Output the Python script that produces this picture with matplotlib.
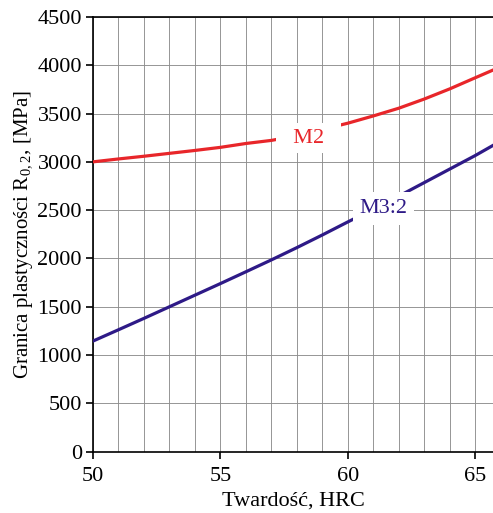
import numpy as np
import matplotlib
matplotlib.use('Agg')
import matplotlib.pyplot as plt
from matplotlib.ticker import MultipleLocator

# Dane
hrc = [50, 51, 52, 53, 54, 55, 56, 57, 58, 59, 60, 61, 62, 63, 64, 65, 65.7]
m2 = [3000, 3030, 3058, 3088, 3118, 3150, 3190, 3222, 3270, 3335, 3400, 3475,
      3555, 3650, 3755, 3870, 3950]
m32 = [1145, 1262, 1380, 1500, 1620, 1740, 1862, 1985, 2112, 2243, 2378, 2510,
       2645, 2785, 2925, 3065, 3170]

plt.rcParams['font.family'] = ['Liberation Serif', 'DejaVu Serif']
plt.rcParams['mathtext.fontset'] = 'custom'
plt.rcParams['mathtext.rm'] = 'Liberation Serif'

fig = plt.figure(figsize=(4.93, 5.13), dpi=100)
ax = fig.add_axes([0.1886, 0.1195, 0.8114, 0.8475])

ax.plot(hrc, m2, color='#e8262a', lw=2.3, zorder=3)
ax.plot(hrc, m32, color='#2e1a87', lw=2.3, zorder=3)

ax.text(58.45, 3245, '  M2  ', color='#e8262a', fontsize=16, ha='center', va='center',
        bbox=dict(facecolor='white', edgecolor='none', pad=4), zorder=4)
ax.text(61.4, 2520, 'M3:2', color='#2e1a87', fontsize=16, ha='center', va='center',
        bbox=dict(facecolor='white', edgecolor='none', pad=5), zorder=4)

ax.set_xlim(50, 65.7)
ax.set_ylim(0, 4500)
ax.xaxis.set_major_locator(MultipleLocator(5))
ax.xaxis.set_minor_locator(MultipleLocator(1))
ax.yaxis.set_major_locator(MultipleLocator(500))
ax.grid(True, which='both', axis='x', color='#8e8e8e', lw=0.65)
ax.grid(True, which='major', axis='y', color='#8e8e8e', lw=0.65)
ax.set_axisbelow(True)
ax.tick_params(which='major', direction='out', length=5, width=1.2, labelsize=16, pad=3)
ax.tick_params(axis='x', which='major', pad=6)
ax.tick_params(which='minor', length=0)
ax.spines['right'].set_visible(False)
for s in ['left', 'bottom', 'top']:
    ax.spines[s].set_linewidth(1.2)

ax.set_xlabel('Twardość, HRC', fontsize=16, labelpad=4)
ax.set_ylabel(r'Granica plastyczności R$_{\mathrm{0,2}}$, [MPa]', fontsize=15, labelpad=2)

fig.savefig('out.png', dpi=100)
